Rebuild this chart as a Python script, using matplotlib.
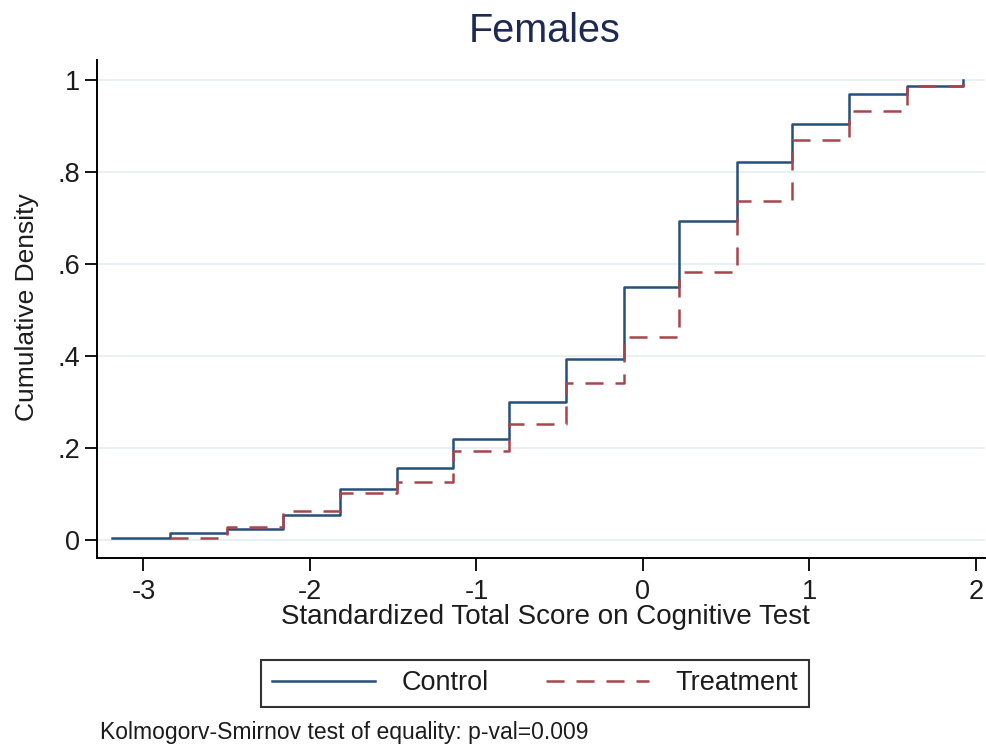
import matplotlib
matplotlib.use("Agg")
import matplotlib.pyplot as plt

plt.rcParams['font.family'] = ['Liberation Sans', 'DejaVu Sans']
plt.rcParams['axes.unicode_minus'] = False
plt.rcParams['lines.scale_dashes'] = False

control_x = [-3.19, -2.84, -2.50, -2.16, -1.82, -1.48, -1.14, -0.805, -0.46,
             -0.114, 0.218, 0.565, 0.897, 1.239, 1.588, 1.92]
control_y = [0.004, 0.016, 0.025, 0.054, 0.112, 0.156, 0.219, 0.301, 0.393,
             0.549, 0.694, 0.821, 0.904, 0.969, 0.988, 1.0]
treatment_x = [-2.84, -2.50, -2.16, -1.82, -1.48, -1.14, -0.805, -0.46,
               -0.114, 0.218, 0.565, 0.897, 1.239, 1.588, 1.92]
treatment_y = [0.004, 0.029, 0.063, 0.103, 0.127, 0.194, 0.252, 0.341,
               0.442, 0.583, 0.738, 0.870, 0.933, 0.988, 1.0]

x_ticks = [-3, -2, -1, 0, 1, 2]
x_ticklabels = ['-3', '-2', '-1', '0', '1', '2']
y_ticks = [0, 0.2, 0.4, 0.6, 0.8, 1.0]
y_ticklabels = ['0', '.2', '.4', '.6', '.8', '1']

blue = '#274f7c'
red = '#a8454c'
txt = '#1c1c1c'

W, H = 987, 748
fig = plt.figure(figsize=(W / 100, H / 100), dpi=100)
left, right, bottom, top = 97, 985, 558, 60
ax = fig.add_axes([left / W, 1 - bottom / H, (right - left) / W, (bottom - top) / H])

l1, = ax.step(control_x, control_y, where='post', color=blue, lw=1.8,
              label='Control')
l2, = ax.step(treatment_x, treatment_y, where='post', color=red, lw=1.8,
              dashes=(13, 8.6), label='Treatment')

ax.set_xlim(-3.279, 2.054)
ax.set_ylim(-0.039, 1.0435)

ax.set_xticks(x_ticks)
ax.set_xticklabels(x_ticklabels)
ax.set_yticks(y_ticks)
ax.set_yticklabels(y_ticklabels)
ax.tick_params(axis='both', direction='out', length=9, width=1.3,
               labelsize=19.5, labelcolor=txt, color='black')
ax.tick_params(axis='x', pad=6)
ax.tick_params(axis='y', pad=3)

ax.grid(axis='y', color='#e6eff1', lw=1.3)
ax.set_axisbelow(True)
for s in ['top', 'right']:
    ax.spines[s].set_visible(False)
for s in ['left', 'bottom']:
    ax.spines[s].set_linewidth(1.4)
    ax.spines[s].set_color('black')

ax.set_xlabel('Standardized Total Score on Cognitive Test', fontsize=20,
              color=txt, va='center')
ax.xaxis.set_label_coords((545 - left) / (right - left), (bottom - 617) / (bottom - top))
ax.set_ylabel('Cumulative Density', fontsize=19, color=txt, va='center')
ax.yaxis.set_label_coords((27 - left) / (right - left), (bottom - 307) / (bottom - top))

ax.set_title('Females', fontsize=28.5, color='#1f2a52', va='center',
             x=(545 - left) / (right - left), y=(bottom - 39) / (bottom - top))

leg = fig.legend(handles=[l1, l2], loc='center',
                 bbox_to_anchor=(535 / W, 1 - 683.5 / H), ncol=2,
                 fontsize=19.5, frameon=True, fancybox=False, shadow=False,
                 handlelength=3.8, handletextpad=1.0, columnspacing=2.1,
                 borderpad=0.4, borderaxespad=0)
leg.get_frame().set_edgecolor('black')
leg.get_frame().set_linewidth(1.5)
for t in leg.get_texts():
    t.set_color(txt)

fig.text(100 / W, 1 - 733 / H, 'Kolmogorv-Smirnov test of equality: p-val=0.009',
         fontsize=16.5, color=txt, ha='left', va='center')

fig.savefig('out.png', dpi=100, facecolor='white')
